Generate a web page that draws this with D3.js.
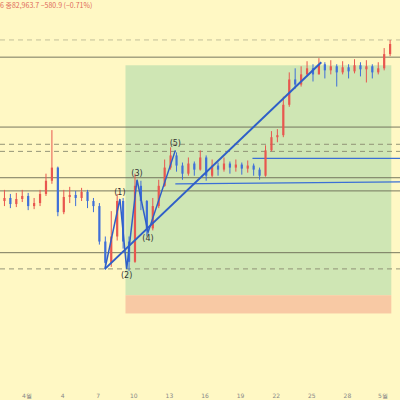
<!DOCTYPE html>
<html><head><meta charset="utf-8">
<script src="https://cdn.jsdelivr.net/npm/d3@7"></script>
<style>body{margin:0;background:#fff8c4}svg{display:block}</style>
</head><body><div id="chart"></div>
<script>
// half-day candles, prices in thousands
var closes = [81.8,81.2,81.7,82.0,81.0,81.3,82.2,83.5,84.8,80.4,81.9,82.1,81.8,82.4,81.5,81.0,
  77.5,75.4,78.0,81.5,77.5,75.5,83.0,81.5,78.8,81.0,83.0,84.8,86.0,85.0,84.2,85.2,84.6,85.8,
  84.0,85.0,84.6,85.2,84.8,85.1,84.7,85.0,84.6,84.0,86.5,87.8,88.0,91.0,93.5,93.0,94.0,94.6,
  94.0,95.0,94.4,94.8,94.2,94.7,94.3,94.9,94.5,94.8,94.2,94.6,96.0,97.0];
var highs = [82.6,82.2,82.3,82.6,82.3,81.8,82.6,84.2,88.5,84.9,82.6,82.9,82.5,82.8,82.6,81.8,
  81.3,78.0,80.5,82.2,81.8,78.0,84.2,83.5,81.6,81.8,83.6,85.6,86.8,86.3,85.3,85.8,85.4,86.5,
  86.0,85.6,85.3,85.8,85.4,85.6,85.3,85.5,85.2,84.8,87.0,88.4,88.6,91.8,94.2,94.6,94.8,95.3,
  95.0,95.6,95.2,95.4,95.0,95.3,95.0,95.5,95.2,95.4,95.0,95.2,96.6,97.4];
var lows = [81.0,80.8,80.9,81.4,80.6,80.7,81.0,82.0,83.2,80.0,80.2,81.3,81.0,81.5,80.8,80.4,
  77.2,74.7,75.0,77.6,76.8,74.6,75.4,80.6,78.0,78.6,80.8,82.9,84.6,84.4,83.6,84.0,84.0,84.5,
  83.5,83.8,84.0,84.4,84.2,84.4,84.1,84.3,84.0,83.6,83.9,86.4,87.3,87.8,90.8,92.6,92.8,93.8,
  93.3,94.0,93.6,94.0,92.8,94.0,93.6,94.1,93.8,93.2,93.6,94.0,94.4,95.8];
var startDay = -0.9;   // day of April for first candle
var tickDays = [1,4,7,10,13,16,19,22,25,28,31];
var tickLabels = ["4월","4","7","10","13","16","19","22","25","28","5월"];
var hLevels = [{p:97.4,d:true},{p:95.7,d:false},{p:88.8,d:false},{p:87.1,d:true},{p:86.4,d:true},
  {p:83.8,d:false},{p:82.5,d:false},{p:76.4,d:false},{p:74.8,d:true}];
var waves = [{day:7.57,p:74.8,t:""},{day:8.83,p:81.7,t:"(1)"},{day:9.4,p:74.8,t:"(2)"},
  {day:10.27,p:83.6,t:"(3)"},{day:11.2,p:78.4,t:"(4)"},{day:13.5,p:86.5,t:"(5)"}];
var trend = [{day:7.57,p:74.8},{day:25.8,p:95.2}];
var chans = [{d0:20.0,p0:85.7,d1:34,p1:85.7},{d0:13.5,p0:83.2,d1:34,p1:83.4}];
var boxTop = 94.9, boxMid = 72.2, boxBot = 70.4, boxD0 = 9.3, boxD1 = 31.7;

var W = 400, H = 400;
var x = d3.scaleLinear().domain([1, 31]).range([27, 383]);
var y = d3.scaleLinear().domain([74, 97]).range([277, 44]);
var svg = d3.select("#chart").append("svg").attr("width", W).attr("height", H);
svg.append("rect").attr("width", W).attr("height", H).attr("fill", "#fff8c4");

svg.append("rect").attr("x", x(boxD0)).attr("y", y(boxTop)).attr("width", x(boxD1) - x(boxD0))
  .attr("height", y(boxMid) - y(boxTop)).attr("fill", "#cfe6b4");
svg.append("rect").attr("x", x(boxD0)).attr("y", y(boxMid)).attr("width", x(boxD1) - x(boxD0))
  .attr("height", y(boxBot) - y(boxMid)).attr("fill", "#f8c9a4");

hLevels.forEach(function(h) {
  svg.append("line").attr("x1", 0).attr("x2", W).attr("y1", y(h.p)).attr("y2", y(h.p))
    .attr("stroke", h.d ? "#8a8a70" : "#6b6b55").attr("stroke-width", 1)
    .attr("stroke-dasharray", h.d ? "5,4" : null).attr("opacity", h.p > 97 ? 0.5 : 0.9);
});

chans.forEach(function(c) {
  svg.append("line").attr("x1", x(c.d0)).attr("y1", y(c.p0)).attr("x2", x(c.d1)).attr("y2", y(c.p1))
    .attr("stroke", "#3b6fd6").attr("stroke-width", 1.3);
});

var bw = 2.2;
var g = svg.append("g");
closes.forEach(function(c, i) {
  var o = i ? closes[i - 1] : c - 0.3, cx = x(startDay + i * 0.5);
  var col = c >= o ? "#e8574f" : "#3f6fd8";
  g.append("line").attr("x1", cx).attr("x2", cx).attr("y1", y(highs[i])).attr("y2", y(lows[i]))
    .attr("stroke", col).attr("stroke-width", 1);
  g.append("rect").attr("x", cx - bw / 2).attr("width", bw)
    .attr("y", y(Math.max(o, c))).attr("height", Math.max(1, Math.abs(y(o) - y(c))))
    .attr("fill", col);
});

var lineGen = d3.line().x(function(d) { return x(d.day); }).y(function(d) { return y(d.p); });
svg.append("path").datum(waves).attr("d", lineGen).attr("fill", "none")
  .attr("stroke", "#2f5fc8").attr("stroke-width", 1.5);
svg.append("path").datum(trend).attr("d", lineGen).attr("fill", "none")
  .attr("stroke", "#2f5fc8").attr("stroke-width", 2);

waves.forEach(function(w, i) {
  if (!w.t) return;
  var down = (i === 2 || i === 4);
  svg.append("text").attr("x", x(w.day)).attr("y", y(w.p) + (down ? 9 : -4))
    .attr("text-anchor", "middle").attr("font-size", 8).attr("font-family", "DejaVu Sans")
    .attr("fill", "#333").text(w.t);
});

tickDays.forEach(function(d, i) {
  svg.append("text").attr("x", x(d)).attr("y", 398).attr("text-anchor", "middle")
    .attr("font-size", 6).attr("font-family", "DejaVu Sans").attr("fill", "#888").text(tickLabels[i]);
});

svg.append("text").attr("x", 0).attr("y", 8).attr("font-size", 7).attr("font-family", "Noto Sans CJK KR")
  .attr("fill", "#e06a5a").text("6 종82,963.7 −580.9 (−0.71%)");
</script></body></html>
